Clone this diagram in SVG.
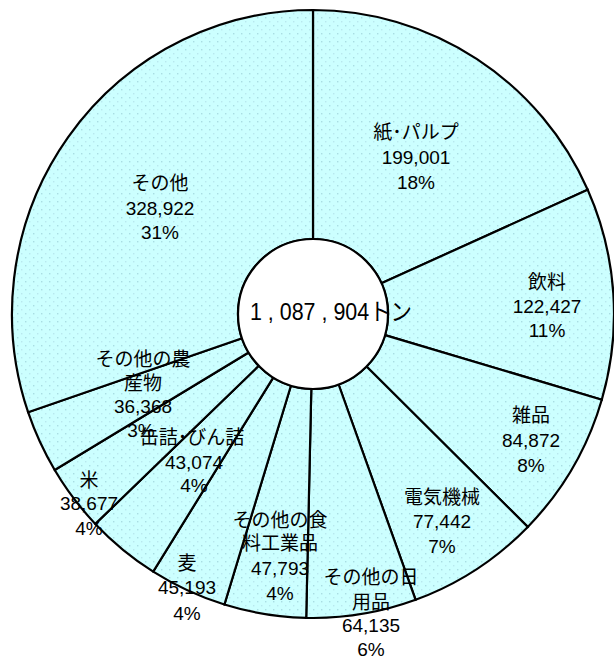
<svg xmlns="http://www.w3.org/2000/svg" width="614" height="659" viewBox="0 0 614 659">
<defs>
<pattern id="dots" width="8" height="8" patternUnits="userSpaceOnUse">
<rect width="8" height="8" fill="#ccffff"/>
<rect x="1" y="1" width="1.4" height="1.4" fill="#a9dde3"/>
<rect x="5" y="5" width="1.4" height="1.4" fill="#b8e8ee"/>
</pattern>
</defs>
<style>
.w{fill:url(#dots);stroke:#000;stroke-width:2.2;stroke-linejoin:miter}
.t{font-family:"Liberation Sans","Noto Sans CJK JP",sans-serif;font-size:19px;fill:#000;text-anchor:middle}
.c{font-family:"Liberation Sans","Noto Sans CJK JP",sans-serif;font-size:24px;fill:#000}
</style>
<rect width="614" height="659" fill="#fff"/>
<g id="slices">
<g id="s-paper"><path class="w" d="M313,239 L313,10 A301,304 0 0 1 587.7,189.7 L381.4,283.3 A75,75 0 0 0 313,239 Z"/></g>
<g id="s-drink"><path class="w" d="M381.4,283.3 L587.7,189.7 A301,304 0 0 1 601.8,399.7 L385,335.1 A75,75 0 0 0 381.4,283.3 Z"/></g>
<g id="s-misc"><path class="w" d="M385,335.1 L601.8,399.7 A301,304 0 0 1 527.8,526.9 L366.5,366.5 A75,75 0 0 0 385,335.1 Z"/></g>
<g id="s-elec"><path class="w" d="M366.5,366.5 L527.8,526.9 A301,304 0 0 1 415.6,599.8 L338.6,384.5 A75,75 0 0 0 366.5,366.5 Z"/></g>
<g id="s-daily"><path class="w" d="M338.6,384.5 L415.6,599.8 A301,304 0 0 1 306.2,617.9 L311.3,389 A75,75 0 0 0 338.6,384.5 Z"/></g>
<g id="s-food"><path class="w" d="M311.3,389 L306.2,617.9 A301,304 0 0 1 224.4,604.5 L290.9,385.7 A75,75 0 0 0 311.3,389 Z"/></g>
<g id="s-wheat"><path class="w" d="M290.9,385.7 L224.4,604.5 A301,304 0 0 1 153.2,571.6 L273.2,377.6 A75,75 0 0 0 290.9,385.7 Z"/></g>
<g id="s-can"><path class="w" d="M273.2,377.6 L153.2,571.6 A301,304 0 0 1 95.3,523.9 L258.7,365.8 A75,75 0 0 0 273.2,377.6 Z"/></g>
<g id="s-rice"><path class="w" d="M258.7,365.8 L95.3,523.9 A301,304 0 0 1 54.7,470 L248.6,352.5 A75,75 0 0 0 258.7,365.8 Z"/></g>
<g id="s-agri"><path class="w" d="M248.6,352.5 L54.7,470 A301,304 0 0 1 28.1,412.2 L242,338.2 A75,75 0 0 0 248.6,352.5 Z"/></g>
<g id="s-other"><path class="w" d="M242,338.2 L28.1,412.2 A301,304 0 0 1 313,10 L313,239 A75,75 0 0 0 242,338.2 Z"/></g>
</g>
<g id="center">
<circle cx="313" cy="314" r="75" fill="#fff" stroke="#000" stroke-width="2.2"/>
<text class="c" x="250" y="320" textLength="162" lengthAdjust="spacingAndGlyphs">1 , 087 , 904トン</text>
</g>
<g id="labels">
<text class="t" x="416" y="139">紙･パルプ</text><text class="t" x="416" y="164">199,001</text><text class="t" x="416" y="189">18%</text>
<text class="t" x="160" y="190">その他</text><text class="t" x="160" y="215">328,922</text><text class="t" x="160" y="239">31%</text>
<text class="t" x="547" y="289">飲料</text><text class="t" x="547" y="313">122,427</text><text class="t" x="547" y="337">11%</text>
<text class="t" x="531" y="422">雑品</text><text class="t" x="531" y="447">84,872</text><text class="t" x="531" y="472">8%</text>
<text class="t" x="442" y="504">電気機械</text><text class="t" x="442" y="528">77,442</text><text class="t" x="442" y="553">7%</text>
<text class="t" x="371" y="584">その他の日</text><text class="t" x="371" y="609">用品</text><text class="t" x="371" y="632">64,135</text><text class="t" x="371" y="656">6%</text>
<text class="t" x="280" y="527">その他の食</text><text class="t" x="280" y="550">料工業品</text><text class="t" x="280" y="575">47,793</text><text class="t" x="280" y="600">4%</text>
<text class="t" x="187" y="570">麦</text><text class="t" x="187" y="594">45,193</text><text class="t" x="187" y="620">4%</text>
<text class="t" x="192" y="444">缶詰･びん詰</text><text class="t" x="194" y="469">43,074</text><text class="t" x="194" y="492">4%</text>
<text class="t" x="89" y="487">米</text><text class="t" x="89" y="510">38,677</text><text class="t" x="89" y="535">4%</text>
<text class="t" x="143" y="366">その他の農</text><text class="t" x="143" y="390">産物</text><text class="t" x="143" y="413">36,368</text><text class="t" x="141" y="437">3%</text>
</g>
</svg>
